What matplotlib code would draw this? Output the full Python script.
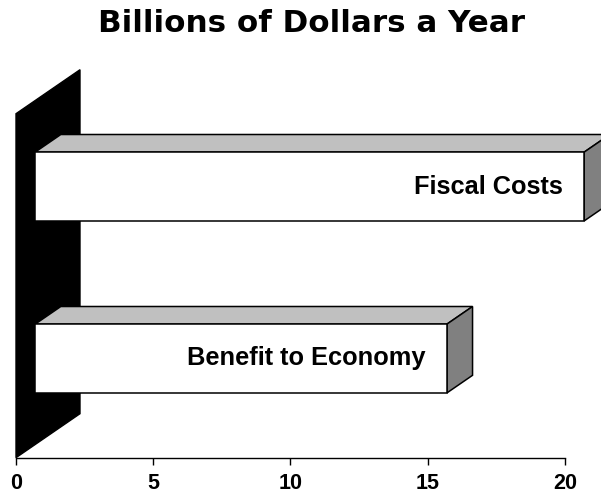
import matplotlib
matplotlib.use('Agg')
import matplotlib.pyplot as plt
from matplotlib.patches import Polygon

categories = ['Benefit to Economy', 'Fiscal Costs']
values = [15, 20]
xticks = [0, 5, 10, 15, 20]
title = 'Billions of Dollars a Year'

W, H = 601, 493
fig = plt.figure(figsize=(W / 100, H / 100), dpi=100)
ax = fig.add_axes([0, 0, 1, 1])

px_x = 20 / 549.0          # value units per pixel
cat_px = 172.0             # pixels per category step
ax.set_xlim(-16 * px_x, (W - 16) * px_x)
ax.set_ylim(-121.3 / cat_px, (H - 121.3) / cat_px)

DX = 64 * px_x
DY = 44 / cat_px


def P(x, y, d):
    return (x + d * DX, y + d * DY)


# back wall (black)
ylo, yhi = -0.5, len(categories) - 0.5
wall = Polygon([P(0, ylo, 0), P(0, ylo, 1), P(0, yhi, 1), P(0, yhi, 0)],
               closed=True, facecolor='black', edgecolor='black', lw=1, zorder=1)
ax.add_patch(wall)

d0, d1 = 0.30, 0.70
bh = 0.4
edge = dict(edgecolor='black', lw=1.1, joinstyle='miter', clip_on=False)
for i, (cat, v) in enumerate(zip(categories, values)):
    yb, yt = i - bh / 2, i + bh / 2
    top = Polygon([P(0, yt, d0), P(v, yt, d0), P(v, yt, d1), P(0, yt, d1)],
                  closed=True, facecolor='#c0c0c0', zorder=3, **edge)
    side = Polygon([P(v, yb, d0), P(v, yb, d1), P(v, yt, d1), P(v, yt, d0)],
                   closed=True, facecolor='#808080', zorder=3, **edge)
    front = Polygon([P(0, yb, d0), P(v, yb, d0), P(v, yt, d0), P(0, yt, d0)],
                    closed=True, facecolor='white', zorder=4, **edge)
    for p in (top, side, front):
        ax.add_patch(p)
    ax.text(v + d0 * DX - 21 * px_x, i + d0 * DY, cat, ha='right', va='center',
            fontsize=18.3, fontweight='bold', family='Liberation Sans', zorder=5)

# axis
for s in ('left', 'right', 'top'):
    ax.spines[s].set_visible(False)
ax.spines['bottom'].set_position(('data', ylo))
ax.spines['bottom'].set_bounds(xticks[0], xticks[-1])
ax.spines['bottom'].set_linewidth(1.0)
ax.spines['bottom'].set_zorder(6)
ax.set_yticks([])
ax.set_xticks(xticks)
ax.set_xticklabels([str(t) for t in xticks])
ax.tick_params(axis='x', direction='out', length=5, width=1.0, pad=6, labelsize=15.5)
for lab in ax.get_xticklabels():
    lab.set_fontweight('bold')
    lab.set_family('Liberation Sans')

fig.text(312 / W, 1 - 32 / H, title, ha='center', va='baseline',
         fontsize=22.3, fontweight='bold', family='DejaVu Sans')

fig.savefig('out.png', dpi=100)
